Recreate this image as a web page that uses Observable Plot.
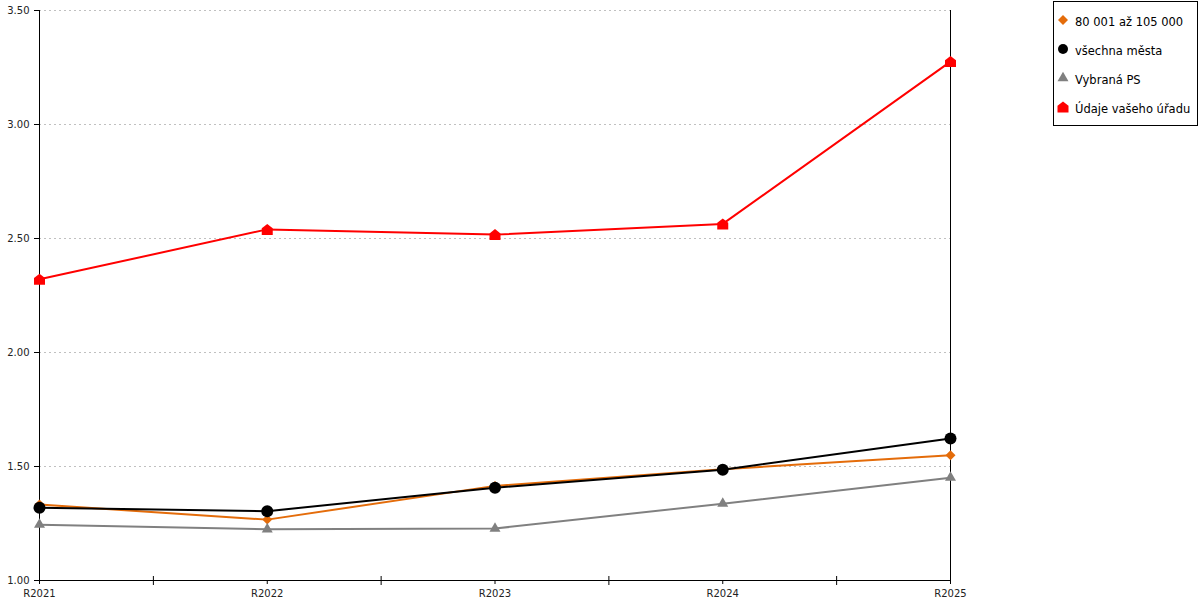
<!DOCTYPE html>
<html><head><meta charset="utf-8">
<script src="https://cdn.jsdelivr.net/npm/d3@7"></script>
<script src="https://cdn.jsdelivr.net/npm/@observablehq/plot@0.6"></script>
<style>
html,body{margin:0;padding:0;background:#fff;}
#wrap{position:relative;width:1200px;height:600px;font-family:"DejaVu Sans",Verdana,sans-serif;}
#legend{position:absolute;left:1053px;top:1px;width:143px;height:123px;border:1px solid #000;background:#fff;}
.sym{position:absolute;left:2px;width:14px;height:14px;}
.lab{position:absolute;left:21px;font-size:11.5px;line-height:14px;color:#000;white-space:nowrap;}
</style></head><body><div id="wrap"><div id="chart"></div><div id="legend"></div></div>
<script>
const years = ["R2021", "R2022", "R2023", "R2024", "R2025"];
const seriesNames = ["80 001 až 105 000", "všechna města", "Vybraná PS", "Údaje vašeho úřadu"];
const seriesColors = ["#e46c0a", "#000000", "#808080", "#ff0000"];
const orangeValues = [1.333, 1.267, 1.415, 1.488, 1.549];
const blackValues = [1.319, 1.304, 1.407, 1.486, 1.623];
const grayValues = [1.245, 1.225, 1.228, 1.337, 1.451];
const redValues = [2.321, 2.540, 2.517, 2.564, 3.276];
const yTicks = [1.0, 1.5, 2.0, 2.5, 3.0, 3.5];

const house = {
  draw(ctx, size) {
    const r = Math.sqrt(size / Math.PI);
    ctx.moveTo(-r, r);
    ctx.lineTo(r, r);
    ctx.lineTo(r, -0.22 * r);
    ctx.lineTo(0, -r);
    ctx.lineTo(-r, -0.22 * r);
    ctx.closePath();
  }
};
const seriesSymbols = [d3.symbolDiamond2, d3.symbolCircle, d3.symbolTriangle2, house];
const seriesR = [4.5, 6, 5.25, 5.5];
const legendR = [4.5, 5, 5.25, 5.5];
const allValues = [orangeValues, blackValues, grayValues, redValues];

const idx = years.map((_, i) => i);
const minorTicks = idx.slice(0, -1).map(i => i + 0.5);

const seriesRows = allValues.map(vals => vals.map((v, i) => ({i, v})));

const marks = [
  Plot.gridY(yTicks, {stroke: "#c0c0c0", strokeOpacity: 1, strokeDasharray: "2,3"}),
  Plot.ruleX([0, years.length - 1], {stroke: "#000"}),
  Plot.ruleY([1], {stroke: "#000"}),
  Plot.axisY(yTicks, {tickSize: 5, tickPadding: 5, tickFormat: d3.format(".2f"), fontSize: 10, fill: "#222", label: null}),
  Plot.axisX(idx, {tickSize: 4, tickPadding: 5, tickFormat: i => years[i], fontSize: 10, fill: "#222", label: null}),
  Plot.axisX(minorTicks, {tickSize: 9, dy: -4, tickFormat: () => "", label: null})
];
seriesRows.forEach((rows, k) => {
  marks.push(Plot.line(rows, {x: "i", y: "v", stroke: seriesColors[k], strokeWidth: 2}));
});
seriesRows.forEach((rows, k) => {
  marks.push(Plot.dot(rows, {x: "i", y: "v", fill: seriesColors[k], symbol: seriesSymbols[k], r: seriesR[k]}));
});

const chart = Plot.plot({
  width: 1200,
  height: 600,
  marginLeft: 39,
  marginRight: 250,
  marginTop: 10,
  marginBottom: 20,
  style: {fontFamily: "'DejaVu Sans', Verdana, sans-serif", background: "#fff"},
  x: {type: "linear", domain: [0, years.length - 1], label: null},
  y: {domain: [1, 3.5], label: null},
  marks
});
document.getElementById("chart").appendChild(chart);

const legend = document.getElementById("legend");
seriesNames.forEach((name, k) => {
  const cy = 18 + 29.1 * k;
  const svg = d3.create("svg").attr("class", "sym").attr("width", 14).attr("height", 14)
    .attr("viewBox", "-7 -7 14 14").style("top", (cy - 7) + "px");
  svg.append("path").attr("d", d3.symbol(seriesSymbols[k], legendR[k] * legendR[k] * Math.PI)()).attr("fill", seriesColors[k]);
  legend.appendChild(svg.node());
  const lab = document.createElement("div");
  lab.className = "lab";
  lab.style.top = (cy - 5.3) + "px";
  lab.textContent = name;
  legend.appendChild(lab);
});
</script></body></html>
